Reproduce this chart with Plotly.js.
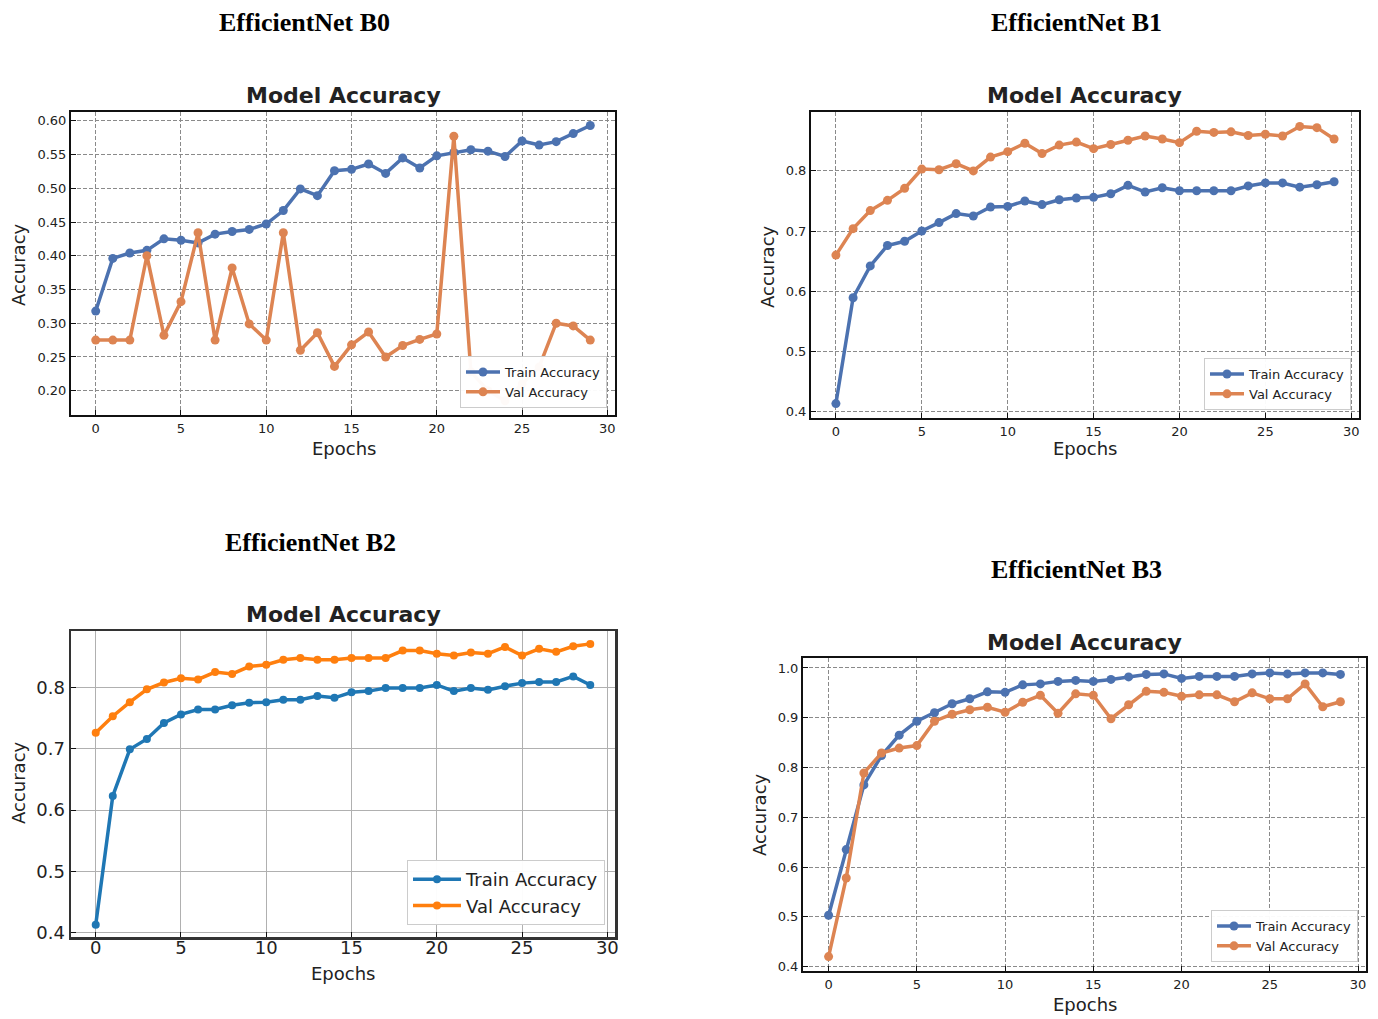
<!DOCTYPE html>
<html>
<head>
<meta charset="utf-8">
<script src="https://cdn.plot.ly/plotly-3.0.1.min.js"></script>
<style>html,body{margin:0;padding:0;background:#fff;}#chart{width:1378px;height:1019px;}</style>
</head>
<body>
<div id="chart"></div>
<script>
// ---- Data ----
const epochs = [0,1,2,3,4,5,6,7,8,9,10,11,12,13,14,15,16,17,18,19,20,21,22,23,24,25,26,27,28,29];

const b0Train = [0.318,0.396,0.404,0.408,0.425,0.423,0.419,0.432,0.436,0.439,0.447,0.467,0.499,0.489,0.526,0.528,0.536,0.522,0.545,0.530,0.548,0.553,0.557,0.555,0.547,0.570,0.564,0.569,0.581,0.593];
const b0Val   = [0.275,0.275,0.275,0.400,0.282,0.332,0.434,0.275,0.382,0.299,0.275,0.434,0.260,0.286,0.236,0.268,0.287,0.250,0.267,0.276,0.284,0.577,0.228,0.200,0.185,0.210,0.235,0.300,0.296,0.275];

const b1Train = [0.413,0.589,0.642,0.676,0.683,0.700,0.714,0.729,0.725,0.740,0.741,0.750,0.744,0.752,0.755,0.756,0.762,0.776,0.765,0.772,0.767,0.767,0.767,0.767,0.775,0.780,0.780,0.773,0.777,0.782];
const b1Val   = [0.660,0.704,0.734,0.751,0.771,0.803,0.802,0.812,0.800,0.823,0.832,0.846,0.829,0.843,0.848,0.837,0.844,0.851,0.858,0.853,0.847,0.866,0.864,0.865,0.859,0.861,0.858,0.874,0.872,0.853];

const b2Train = [0.413,0.623,0.699,0.716,0.742,0.756,0.764,0.764,0.771,0.775,0.776,0.780,0.780,0.786,0.783,0.792,0.794,0.799,0.799,0.799,0.804,0.794,0.799,0.796,0.802,0.807,0.809,0.809,0.818,0.804];
const b2Val   = [0.726,0.753,0.776,0.797,0.808,0.815,0.813,0.825,0.822,0.834,0.837,0.845,0.848,0.845,0.845,0.848,0.848,0.848,0.860,0.860,0.855,0.852,0.857,0.855,0.866,0.852,0.863,0.858,0.867,0.871];

const b3Train = [0.503,0.635,0.765,0.824,0.865,0.893,0.910,0.928,0.938,0.952,0.951,0.966,0.968,0.973,0.975,0.973,0.977,0.982,0.987,0.988,0.979,0.983,0.983,0.983,0.988,0.990,0.988,0.990,0.990,0.987];
const b3Val   = [0.420,0.578,0.789,0.829,0.839,0.844,0.893,0.907,0.916,0.921,0.911,0.931,0.945,0.909,0.948,0.945,0.898,0.926,0.953,0.951,0.943,0.946,0.946,0.932,0.950,0.938,0.938,0.968,0.922,0.932];

const panelTitles = ["EfficientNet B0","EfficientNet B1","EfficientNet B2","EfficientNet B3"];
const plotTitle = "Model Accuracy";
const xLabel = "Epochs";
const yLabel = "Accuracy";
const seriesNames = ["Train Accuracy","Val Accuracy"];

// ---- Layout helpers ----
const W = 1378, H = 1019;
const px = x => x / W;
const py = y => 1 - y / H;
const FONT = "DejaVu Sans, sans-serif";
const SERIF = "Liberation Serif, DejaVu Serif, serif";

const deep = ["#4c72b0", "#dd8452"];
const tab = ["#1f77b4", "#ff7f0e"];

const panels = [
  {train:b0Train, val:b0Val, colors:deep, box:[71,615,112,415], yr:[0.164,0.613], dtick:0.05, fmt:".2f",
   dash:true, tickSize:13, legSize:13, legW:34, leg:[607,408], sup:[304,23], tt:[343,96], xl:[344,448], yl:[18,265], lw:3.5, ms:9, xso:0},
  {train:b1Train, val:b1Val, colors:deep, box:[811,1359,112,418], yr:[0.389,0.898], dtick:0.1, fmt:".1f",
   dash:true, tickSize:13, legSize:13, legW:34, leg:[1351,410], sup:[1076,23], tt:[1084,96], xl:[1085,448], yl:[768,267], lw:3.5, ms:9, xso:0},
  {train:b2Train, val:b2Val, colors:tab, box:[71,615,631,937], yr:[0.393,0.892], dtick:0.1, fmt:".1f",
   dash:false, tickSize:18, legSize:18, legW:48, leg:[605,925], sup:[310,542], tt:[343,614], xl:[343,973], yl:[18,783], lw:3.5, ms:8, xso:-7},
  {train:b3Train, val:b3Val, colors:deep, box:[803,1366,658,971], yr:[0.391,1.020], dtick:0.1, fmt:".1f",
   dash:true, tickSize:13, legSize:13, legW:34, leg:[1358,962], sup:[1076,569], tt:[1084,642], xl:[1085,1004], yl:[759,815], lw:3.5, ms:9, xso:0}
];

const data = [];
const layout = {
  width: W, height: H,
  margin: {l:0, r:0, t:0, b:0},
  paper_bgcolor: "#fff", plot_bgcolor: "#fff",
  font: {family: FONT, color: "#222"},
  annotations: [], shapes: []
};

panels.forEach((p, i) => {
  const n = i === 0 ? "" : String(i + 1);
  const xa = "xaxis" + n, ya = "yaxis" + n;
  const legName = "legend" + n;
  [p.train, p.val].forEach((ys, k) => {
    data.push({
      x: epochs, y: ys, type: "scatter", mode: "lines+markers",
      name: seriesNames[k],
      xaxis: "x" + n, yaxis: "y" + n, legend: legName,
      line: {color: p.colors[k], width: p.lw},
      marker: {color: p.colors[k], size: p.ms},
      cliponaxis: true
    });
  });
  const axisCommon = {
    showline: true, mirror: true, linecolor: p.dash ? "#111" : "#333", linewidth: p.dash ? 2 : 2.5,
    ticks: "inside", ticklen: 5, tickwidth: 1, tickcolor: "#111",
    showgrid: true, gridcolor: p.dash ? "#8a8a8a" : "#b0b0b0", gridwidth: 1,
    griddash: p.dash ? "4px,2px" : "solid",
    zeroline: false,
    tickfont: {family: FONT, size: p.tickSize, color: "#222"}
  };
  layout[xa] = Object.assign({}, axisCommon, {
    domain: [px(p.box[0]), px(p.box[1])], range: [-1.45, 30.45],
    tick0: 0, dtick: 5, anchor: "y" + n, ticklabelstandoff: p.xso
  });
  layout[ya] = Object.assign({}, axisCommon, {
    domain: [py(p.box[3]), py(p.box[2])], range: p.yr,
    tick0: 0, dtick: p.dtick, tickformat: p.fmt, anchor: "x" + n
  });
  layout[legName] = {
    x: px(p.leg[0]), y: py(p.leg[1]), xanchor: "right", yanchor: "bottom",
    bgcolor: "rgba(255,255,255,0.96)", bordercolor: "#cccccc", borderwidth: 1,
    font: {family: FONT, size: p.legSize, color: "#222"},
    itemwidth: p.legW, tracegroupgap: 0
  };
  // super title
  layout.annotations.push({
    text: "<b>" + panelTitles[i] + "</b>", xref: "paper", yref: "paper",
    x: px(p.sup[0]), y: py(p.sup[1]), xanchor: "center", yanchor: "middle", showarrow: false,
    font: {family: SERIF, size: 26, color: "#000"}
  });
  // plot title
  layout.annotations.push({
    text: "<b>" + plotTitle + "</b>", xref: "paper", yref: "paper",
    x: px(p.tt[0]), y: py(p.tt[1]), xanchor: "center", yanchor: "middle", showarrow: false,
    font: {family: FONT, size: 22, color: "#222"}
  });
  // x label
  layout.annotations.push({
    text: xLabel, xref: "paper", yref: "paper",
    x: px(p.xl[0]), y: py(p.xl[1]), xanchor: "center", yanchor: "middle", showarrow: false,
    font: {family: FONT, size: 18, color: "#222"}
  });
  // y label
  layout.annotations.push({
    text: yLabel, xref: "paper", yref: "paper", textangle: -90,
    x: px(p.yl[0]), y: py(p.yl[1]), xanchor: "center", yanchor: "middle", showarrow: false,
    font: {family: FONT, size: 18, color: "#222"}
  });
});

Plotly.newPlot("chart", data, layout, {displayModeBar: false, staticPlot: true});
</script>
</body>
</html>
